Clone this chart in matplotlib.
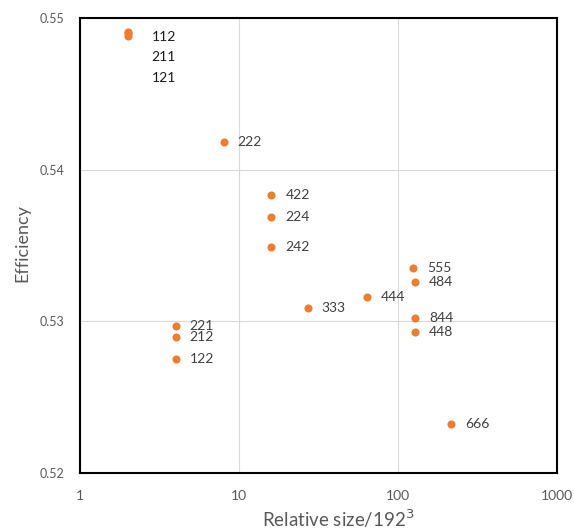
import matplotlib
matplotlib.use("Agg")
import matplotlib.pyplot as plt
from matplotlib.ticker import FixedLocator, FuncFormatter, NullLocator

plt.rcParams['font.family'] = ['Lato', 'DejaVu Sans']

labels = ["112", "211", "121", "222", "422", "224", "242", "221", "212", "122",
          "333", "444", "555", "484", "844", "448", "666"]
sizes = [2, 2, 2, 8, 16, 16, 16, 4, 4, 4, 27, 64, 125, 128, 128, 128, 216]
efficiency = [0.5491, 0.5490, 0.5488, 0.5418, 0.5383, 0.5369, 0.5349, 0.5297, 0.5290, 0.5275,
              0.5309, 0.5316, 0.5335, 0.5326, 0.5302, 0.5293, 0.5232]

x_ticks = [1, 10, 100, 1000]
y_ticks = [0.52, 0.53, 0.54, 0.55]

fig = plt.figure(figsize=(5.74, 5.29), dpi=100)
ax = fig.add_axes([80 / 574, 1 - 473 / 529, (557 - 80) / 574, (473 - 18) / 529])

ax.scatter(sizes, efficiency, s=34, color="#ED7D31", zorder=3, linewidths=0)

# label offsets in points (manually moved labels for the overlapping trio)
special = {"112": (17, -3.5), "211": (17, -17.5), "121": (17, -30)}
for lab, x, y in zip(labels, sizes, efficiency):
    if lab in special:
        dx, dy = special[lab]
        col = "#1a1a1a"
    else:
        dx, dy = 10, 0
        col = "#404040"
    ax.annotate(lab, (x, y), xytext=(dx, dy), textcoords="offset points",
                ha="left", va="center", fontsize=10, color=col)

ax.set_xscale("log")
ax.set_xlim(1, 1000)
ax.set_ylim(0.52, 0.55)
ax.xaxis.set_major_locator(FixedLocator(x_ticks))
ax.xaxis.set_minor_locator(NullLocator())
ax.xaxis.set_major_formatter(FuncFormatter(lambda v, p: f"{v:g}"))
ax.yaxis.set_major_locator(FixedLocator(y_ticks))
ax.yaxis.set_major_formatter(FuncFormatter(lambda v, p: f"{v:.2f}"))

ax.grid(True, color="#d9d9d9", linewidth=0.8, zorder=0)
ax.set_axisbelow(True)
ax.tick_params(axis="x", length=0, labelsize=10, labelcolor="#595959", pad=12)
ax.tick_params(axis="y", length=0, labelsize=9, labelcolor="#595959", pad=11)

for s in ax.spines.values():
    s.set_color("black")
    s.set_linewidth(1.5)

ax.set_xlabel("Relative size/192$^3$", fontsize=13.5, color="#595959")
ax.xaxis.set_label_coords((338 - 80) / 477, -0.075)
ax.set_ylabel("Efficiency", fontsize=13, color="#595959")
ax.yaxis.set_label_coords(-0.105, 0.505)

fig.savefig("out.png", dpi=100)
